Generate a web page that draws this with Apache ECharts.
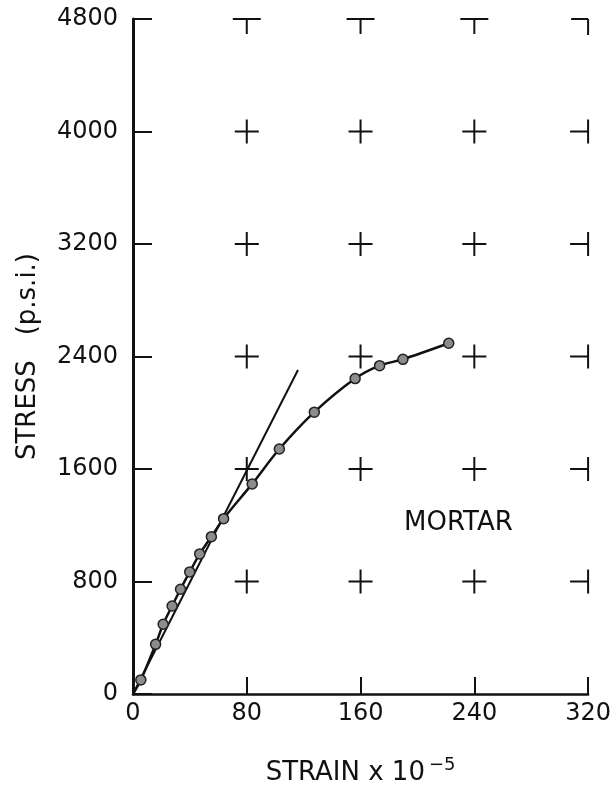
<!DOCTYPE html>
<html>
<head>
<meta charset="utf-8">
<script src="https://cdn.jsdelivr.net/npm/echarts@6/dist/echarts.min.js"></script>
<style>
  html, body { margin: 0; padding: 0; background: #fff; }
  #chart { width: 614px; height: 792px; }
</style>
</head>
<body>
<div id="chart"></div>
<script>
// tick values
var xTicks = [0, 80, 160, 240, 320];
var yTicks = [0, 800, 1600, 2400, 3200, 4000, 4800];

// measured points (strain x 10^-5, stress psi)
var strain = [5.5, 15.9, 21.2, 27.5, 33.4, 39.9, 46.9, 55.1, 63.7, 83.8, 102.9, 127.5, 156.2, 173.4, 189.8, 222];
var stress = [100, 353, 496, 626, 745, 868, 996, 1119, 1247, 1494, 1742, 2004, 2243, 2335, 2380, 2494];

// initial tangent
var tangentStrain = [0, 116];
var tangentStress = [0, 2304];

(function () {
    var myChart = echarts.init(document.getElementById('chart'));
    var font = '"DejaVu Sans", sans-serif';
    var xMax = xTicks[xTicks.length - 1];
    var yMax = yTicks[yTicks.length - 1];

    var points = strain.map(function (v, i) { return [v, stress[i]]; });
    var curve = [[0, 0]].concat(points);
    var tangent = tangentStrain.map(function (v, i) { return [v, tangentStress[i]]; });

    // crosses inside the frame
    var marks = [];
    xTicks.slice(1).forEach(function (x) {
        yTicks.slice(1).forEach(function (y) {
            marks.push([x, y]);
        });
    });

    var option = {
        backgroundColor: '#fff',
        animation: false,
        grid: { left: 133, right: 24, top: 19, bottom: 98 },
        xAxis: {
            type: 'value',
            min: 0, max: 320, interval: 80,
            name: '{a|STRAIN x 10}{s|−5}',
            nameLocation: 'middle',
            nameGap: 62,
            nameTextStyle: {
                rich: {
                    a: { fontFamily: font, fontSize: 26, color: '#111' },
                    s: { fontFamily: font, fontSize: 18, color: '#111', verticalAlign: 'top', padding: [0, 0, 16, 4] }
                }
            },
            axisLine: { show: true, lineStyle: { color: '#111', width: 2.5 } },
            axisTick: { show: true, inside: true, length: 17, lineStyle: { color: '#111', width: 2 } },
            axisLabel: { color: '#111', fontFamily: font, fontSize: 24, margin: 8 },
            splitLine: { show: false }
        },
        yAxis: {
            type: 'value',
            min: 0, max: 4800, interval: 800,
            name: 'STRESS   (p.s.i.)',
            nameLocation: 'middle',
            nameGap: 92,
            nameTextStyle: { fontFamily: font, fontSize: 26, color: '#111' },
            axisLine: { show: true, lineStyle: { color: '#111', width: 3 } },
            axisTick: { show: true, inside: true, length: 19, lineStyle: { color: '#111', width: 2 } },
            axisLabel: {
                color: '#111', fontFamily: font, fontSize: 24, margin: 15, padding: [6, 0, 0, 0],
                formatter: function (v) { return String(v); }
            },
            splitLine: { show: false }
        },
        graphic: [{
            type: 'text',
            left: 404, top: 510,
            style: { text: 'MORTAR', fontFamily: font, fontSize: 26, fill: '#111' }
        }],
        series: [
            {
                type: 'custom',
                data: marks,
                silent: true,
                renderItem: function (params, api) {
                    var x = api.value(0), y = api.value(1);
                    var p = api.coord([x, y]);
                    var segs;
                    if (x === xMax && y === yMax) segs = [[-17, 0, 0, 0], [0, 0, 0, 16]];
                    else if (y === yMax) segs = [[-14, 0, 14, 0], [0, 0, 0, 15]];
                    else if (x === xMax) segs = [[-18, 0, 0, 0], [0, -12, 0, 12]];
                    else segs = [[-12, 0, 12, 0], [0, -12, 0, 12]];
                    return {
                        type: 'group',
                        children: segs.map(function (s) {
                            return {
                                type: 'line',
                                shape: { x1: p[0] + s[0], y1: p[1] + s[1], x2: p[0] + s[2], y2: p[1] + s[3] },
                                style: { stroke: '#111', lineWidth: 2 }
                            };
                        })
                    };
                }
            },
            {
                type: 'line',
                data: tangent,
                showSymbol: false,
                lineStyle: { color: '#111', width: 2 },
                silent: true
            },
            {
                type: 'line',
                data: curve,
                smooth: 0.3,
                showSymbol: false,
                lineStyle: { color: '#111', width: 2.5 },
                silent: true
            },
            {
                type: 'scatter',
                data: points,
                symbol: 'circle',
                symbolSize: 10,
                itemStyle: { color: '#8c8c8c', borderColor: '#222', borderWidth: 1.5, opacity: 1 },
                z: 5
            }
        ]
    };

    myChart.setOption(option);
})();
</script>
</body>
</html>
